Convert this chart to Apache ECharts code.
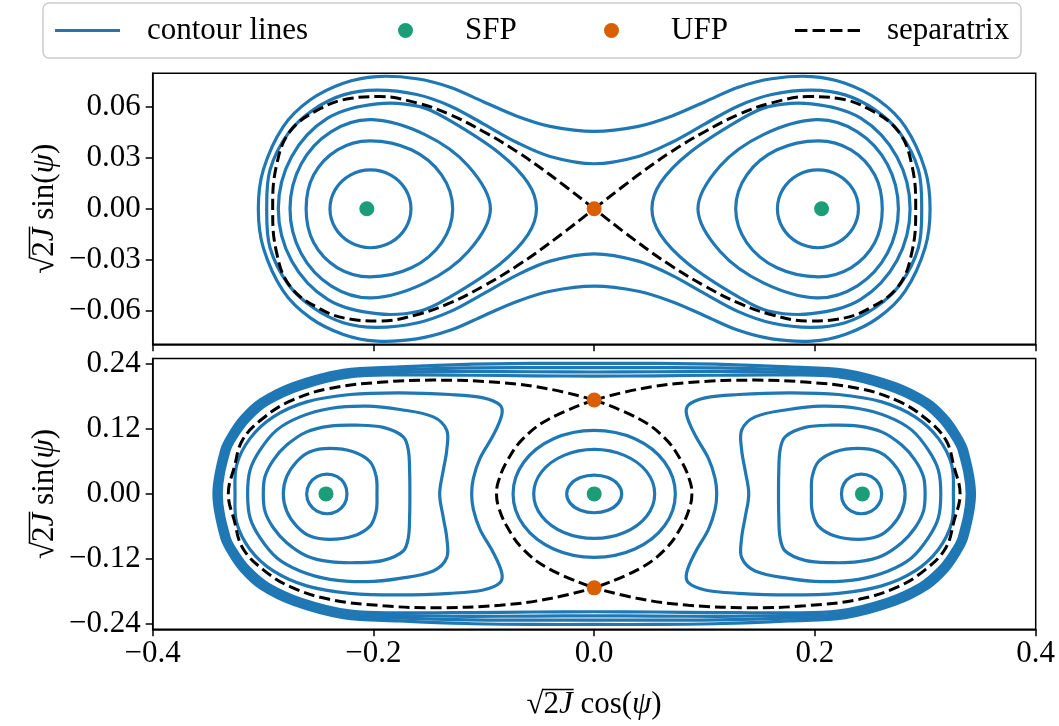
<!DOCTYPE html>
<html>
<head>
<meta charset="utf-8">
<script src="https://cdn.jsdelivr.net/npm/echarts@6/dist/echarts.min.js"></script>
<style>
  html, body { margin: 0; padding: 0; background: #ffffff; }
  #chart { width: 1059px; height: 726px; }
</style>
</head>
<body>
<div id="chart"></div>
<script>
// Phase-space portrait: x = sqrt(2J) cos(psi), y = sqrt(2J) sin(psi)

const xTicks = [-0.4, -0.2, 0, 0.2, 0.4];
const topYTicks = [-0.06, -0.03, 0, 0.03, 0.06];
const bottomYTicks = [-0.24, -0.12, 0, 0.12, 0.24];
const legendNames = ['contour lines', 'SFP', 'UFP', 'separatrix'];

// ---------- upper panel ----------
// upper half of each orbit around the left stable point, traced left to right
const topIslandHalves = [
  [[-0.2394, 0], [-0.2345, 0.0114], [-0.2210, 0.0198], [-0.2027, 0.0229], [-0.1843, 0.0198], [-0.1709, 0.0114], [-0.1660, 0]],
  [[-0.2610, 0], [-0.2541, 0.0200], [-0.2326, 0.0347], [-0.2031, 0.0400], [-0.1656, 0.0347], [-0.1383, 0.0200], [-0.1282, 0]],
  [[-0.2756, 0], [-0.2656, 0.0262], [-0.2385, 0.0453], [-0.2013, 0.0524], [-0.1533, 0.0436], [-0.1143, 0.0253], [-0.0940, 0]],
  [[-0.2862, 0], [-0.2742, 0.0306], [-0.2415, 0.0533], [-0.1968, 0.0617], [-0.1578, 0.0601], [-0.1306, 0.0518], [-0.0853, 0.0324], [-0.0600, 0.0152], [-0.0523, 0]]
];
// upper-left quarter of the orbits enclosing both islands
const topOuterQuarters = [
  [[-0.2967, 0], [-0.2937, 0.0229], [-0.2771, 0.0445], [-0.2545, 0.0582], [-0.2273, 0.0670], [-0.1970, 0.0698], [-0.1608, 0.0672], [-0.1306, 0.0605], [-0.1005, 0.0500], [-0.0700, 0.0390], [-0.0400, 0.0308], [0, 0.0265]],
  [[-0.3043, 0], [-0.2998, 0.0229], [-0.2817, 0.0484], [-0.2575, 0.0640], [-0.2273, 0.0739], [-0.1970, 0.0778], [-0.1608, 0.0765], [-0.1306, 0.0715], [-0.1005, 0.0630], [-0.0700, 0.0545], [-0.0400, 0.0485], [0, 0.0455]]
];
// upper branch of the left separatrix lobe, from the unstable point outwards
const topSeparatrixHalf = [[0, 0], [-0.0400, 0.0200], [-0.0702, 0.0337], [-0.1005, 0.0455], [-0.1306, 0.0554], [-0.1608, 0.0623], [-0.1940, 0.0660], [-0.2200, 0.0650], [-0.2480, 0.0590], [-0.2756, 0.0455], [-0.2880, 0.0250], [-0.2913, 0]];
const topSFP = [[-0.206, 0], [0.206, 0]];
const topUFP = [[0, 0]];

// ---------- lower panel ----------
const bottomIslandHalves = [
  [[-0.2605, 0], [-0.2580, 0.0185], [-0.2512, 0.0318], [-0.2420, 0.0367], [-0.2328, 0.0318], [-0.2262, 0.0185], [-0.2240, 0]],
  [[-0.2817, 0], [-0.2786, 0.0318], [-0.2696, 0.0595], [-0.2575, 0.0780], [-0.2394, 0.0842], [-0.2183, 0.0780], [-0.2031, 0.0595], [-0.1975, 0.0318], [-0.1968, 0]],
  [[-0.2998, 0], [-0.2983, 0.0318], [-0.2907, 0.0626], [-0.2786, 0.0903], [-0.2605, 0.1148], [-0.2394, 0.1254], [-0.2152, 0.1272], [-0.1911, 0.1230], [-0.1730, 0.1056], [-0.1684, 0.0811], [-0.1672, 0.0385], [-0.1670, 0]],
  [[-0.3140, 0], [-0.3118, 0.0441], [-0.3028, 0.0810], [-0.2877, 0.1180], [-0.2665, 0.1425], [-0.2394, 0.1580], [-0.2061, 0.1623], [-0.1760, 0.1562], [-0.1458, 0.1425], [-0.1336, 0.1180], [-0.1336, 0.0810], [-0.1367, 0.0441], [-0.1400, 0]],
  [[-0.3254, 0], [-0.3239, 0.0534], [-0.3118, 0.1027], [-0.2907, 0.1425], [-0.2605, 0.1702], [-0.2212, 0.1839], [-0.1760, 0.1869], [-0.1306, 0.1839], [-0.1005, 0.1777], [-0.0853, 0.1641], [-0.0838, 0.1457], [-0.0914, 0.1088], [-0.1035, 0.0657], [-0.1095, 0.0288], [-0.1110, 0]]
];
// upper half of the orbits around the central stable point
const bottomCenterHalves = [
  [[-0.0249, 0], [-0.0216, 0.0175], [-0.0125, 0.0302], [0, 0.0349], [0.0125, 0.0302], [0.0216, 0.0175], [0.0249, 0]],
  [[-0.0548, 0], [-0.0475, 0.0412], [-0.0274, 0.0713], [0, 0.0823], [0.0274, 0.0713], [0.0475, 0.0412], [0.0548, 0]],
  [[-0.0735, 0], [-0.0637, 0.0590], [-0.0368, 0.1020], [0, 0.1175], [0.0368, 0.1020], [0.0637, 0.0590], [0.0735, 0]]
];
// upper-left quarter of the orbits outside the separatrix
const bottomOuterQuarters = [
  [[-0.3445, 0], [-0.3375, 0.0810], [-0.3300, 0.1120], [-0.3194, 0.1425], [-0.3028, 0.1734], [-0.2726, 0.2042], [-0.2273, 0.2288], [-0.1760, 0.2349], [-0.1155, 0.2398], [-0.0550, 0.2415], [0, 0.2415]],
  [[-0.3423, 0], [-0.3353, 0.0805], [-0.3278, 0.1110], [-0.3171, 0.1410], [-0.3004, 0.1712], [-0.2700, 0.2012], [-0.2250, 0.2250], [-0.1740, 0.2300], [-0.1140, 0.2330], [-0.0550, 0.2335], [0, 0.2335]],
  [[-0.3401, 0], [-0.3331, 0.0800], [-0.3255, 0.1100], [-0.3147, 0.1395], [-0.2979, 0.1690], [-0.2674, 0.1982], [-0.2227, 0.2212], [-0.1720, 0.2250], [-0.1125, 0.2265], [-0.0550, 0.2260], [0, 0.2255]],
  [[-0.3379, 0], [-0.3309, 0.0795], [-0.3232, 0.1090], [-0.3123, 0.1380], [-0.2954, 0.1668], [-0.2648, 0.1952], [-0.2204, 0.2170], [-0.1700, 0.2200], [-0.1110, 0.2195], [-0.0550, 0.2185], [0, 0.2180]]
];
// separatrix branches, from the upper unstable point down to the x axis
const bottomSepOuterHalf = [[0, 0.1738], [-0.0400, 0.1937], [-0.0853, 0.2060], [-0.1458, 0.2105], [-0.1910, 0.2070], [-0.2400, 0.1950], [-0.2750, 0.1720], [-0.3000, 0.1400], [-0.3185, 0.1000], [-0.3260, 0.0500], [-0.3315, 0]];
const bottomSepInnerHalf = [[0, 0.1738], [-0.0400, 0.1396], [-0.0642, 0.1027], [-0.0793, 0.0595], [-0.0869, 0.0225], [-0.0885, 0]];
const bottomSFP = [[-0.243, 0], [0, 0], [0.243, 0]];
const bottomUFP = [[0, 0.1738], [0, -0.1738]];

// ---------- styling ----------
const BLUE = '#1f77b4';
const GREEN = '#1b9e77';
const ORANGE = '#d95f02';
const FONT = 'Liberation Serif';
const FS = 31;

// ---------- orbit assembly (reflection symmetry of the Hamiltonian) ----------
const flipY = pts => pts.map(([x, y]) => [x, -y]);
const flipX = pts => pts.map(([x, y]) => [-x, y]);
function loopFromHalf(h) {
  return h.concat(flipY(h.slice(1, -1)).reverse());
}
function loopFromQuarter(q) {
  const upper = q.concat(flipX(q.slice(0, -1)).reverse());
  return loopFromHalf(upper);
}
function lobeFromHalf(h) {
  return h.concat(flipY(h.slice(0, -1)).reverse());
}

function ringSeries(points, g) {
  return {
    type: 'custom', name: legendNames[0], coordinateSystem: 'cartesian2d',
    xAxisIndex: g, yAxisIndex: g, data: points, silent: true, z: 2,
    itemStyle: { color: BLUE },
    renderItem: (params, api) => params.dataIndex !== 0 ? null : {
      type: 'polygon',
      shape: { points: points.map(p => api.coord(p)), smooth: 0.35 },
      style: { fill: 'none', stroke: BLUE, lineWidth: 3.2 }
    }
  };
}
function sepSeries(points, g) {
  return {
    type: 'line', name: legendNames[3], xAxisIndex: g, yAxisIndex: g, data: points,
    symbol: 'none', smooth: 0.4, silent: true, z: 3,
    itemStyle: { color: '#000' },
    lineStyle: { color: '#000', width: 3, type: [11, 5] }
  };
}
function pointSeries(name, points, color, g) {
  return {
    type: 'scatter', name, xAxisIndex: g, yAxisIndex: g, data: points,
    symbol: 'circle', symbolSize: 15, silent: true, z: 5,
    itemStyle: { color, opacity: 1 }
  };
}

const series = [];
// upper panel
topIslandHalves.forEach(h => {
  const loop = loopFromHalf(h);
  series.push(ringSeries(loop, 0));
  series.push(ringSeries(flipX(loop), 0));
});
topOuterQuarters.forEach(q => series.push(ringSeries(loopFromQuarter(q), 0)));
const topLobe = lobeFromHalf(topSeparatrixHalf);
series.push(sepSeries(topLobe, 0), sepSeries(flipX(topLobe), 0));
series.push(pointSeries(legendNames[1], topSFP, GREEN, 0), pointSeries(legendNames[2], topUFP, ORANGE, 0));
// lower panel
bottomIslandHalves.forEach(h => {
  const loop = loopFromHalf(h);
  series.push(ringSeries(loop, 1));
  series.push(ringSeries(flipX(loop), 1));
});
bottomCenterHalves.forEach(h => series.push(ringSeries(loopFromHalf(h), 1)));
bottomOuterQuarters.forEach(q => series.push(ringSeries(loopFromQuarter(q), 1)));
const outerLobe = lobeFromHalf(bottomSepOuterHalf);
const innerLobe = lobeFromHalf(bottomSepInnerHalf);
series.push(sepSeries(outerLobe, 1), sepSeries(flipX(outerLobe), 1));
series.push(sepSeries(innerLobe, 1), sepSeries(flipX(innerLobe), 1));
series.push(pointSeries(legendNames[1], bottomSFP, GREEN, 1), pointSeries(legendNames[2], bottomUFP, ORANGE, 1));

// ---------- axis labels with a radical sign ----------
const measureCtx = document.createElement('canvas').getContext('2d');
function textWidth(t, italic) {
  measureCtx.font = (italic ? 'italic ' : '') + FS + 'px "' + FONT + '"';
  return measureCtx.measureText(t).width;
}
function radicalLabel(tail, cx, cy, rotation) {
  const pieces = [{ t: '\u221A' }, { t: '2', bar: true }, { t: 'J', it: true, bar: true }].concat(tail);
  let x = 0, barStart = null, barEnd = null;
  const placed = pieces.map(p => {
    const w = textWidth(p.t, p.it);
    const item = { p, x };
    if (p.bar) { if (barStart === null) barStart = x; barEnd = x + w; }
    x += w;
    return item;
  });
  const half = x / 2;
  const children = placed.map(({ p, x: px }) => ({
    type: 'text', x: px - half, y: 0, silent: true,
    style: {
      text: p.t, fill: '#000',
      font: (p.it ? 'italic ' : '') + FS + 'px "' + FONT + '"',
      align: 'left', verticalAlign: 'middle',
      textAlign: 'left', textVerticalAlign: 'middle'
    }
  }));
  children.push({
    type: 'line', silent: true,
    shape: { x1: barStart - half - 1, y1: -15.5, x2: barEnd - half + 1, y2: -15.5 },
    style: { stroke: '#000', lineWidth: 1.5 }
  });
  return { type: 'group', x: cx, y: cy, rotation, children };
}

// one legend block per entry so each column sits where it belongs
const legendIcons = [
  'path://M0,0H65V3.2H0Z',
  'circle',
  'circle',
  'path://M0,0H12V3H0Z M17,0H29V3H17Z M34,0H46V3H34Z M51,0H63V3H51Z'
];
const legendLefts = [55, 398, 604, 795];
const legends = legendNames.map((name, i) => ({
  left: legendLefts[i], top: 15, padding: 0,
  itemWidth: 65, itemHeight: 15, selectedMode: false, z: 6,
  textStyle: { fontFamily: FONT, fontSize: FS, color: '#000', padding: [0, 0, 0, 22] },
  data: [{ name, icon: legendIcons[i] }]
}));

const tickFmt = d => v => (v < 0 ? '\u2212' : '') + Math.abs(v).toFixed(d);
const tickLine = { show: true, length: 7, inside: false, lineStyle: { color: '#000', width: 1.5 } };
const frameLine = { show: true, onZero: false, lineStyle: { color: '#000', width: 1.5 } };
const labelFont = { fontFamily: FONT, fontSize: FS, color: '#000' };

const option = {
  animation: false,
  backgroundColor: '#ffffff',
  legend: legends,
  grid: [
    { left: 152.7, top: 73.3, width: 883, height: 271, show: true, borderColor: '#000', borderWidth: 1.5, backgroundColor: 'transparent' },
    { left: 152.7, top: 358.5, width: 883, height: 270.8, show: true, borderColor: '#000', borderWidth: 1.5, backgroundColor: 'transparent' }
  ],
  xAxis: [
    { gridIndex: 0, type: 'value', position: 'bottom', min: xTicks[0], max: xTicks[xTicks.length - 1], interval: 0.2,
      axisLine: frameLine, axisTick: tickLine, axisLabel: { show: false }, splitLine: { show: false } },
    { gridIndex: 1, type: 'value', position: 'bottom', min: xTicks[0], max: xTicks[xTicks.length - 1], interval: 0.2,
      axisLine: frameLine, axisTick: tickLine, splitLine: { show: false },
      axisLabel: Object.assign({ margin: 9, formatter: tickFmt(1) }, labelFont) }
  ],
  yAxis: [
    { gridIndex: 0, type: 'value', position: 'left', min: -0.0797, max: 0.0797,
      axisLine: frameLine,
      axisTick: Object.assign({ customValues: topYTicks }, tickLine), splitLine: { show: false },
      axisLabel: Object.assign({ customValues: topYTicks, margin: 12, formatter: tickFmt(2) }, labelFont) },
    { gridIndex: 1, type: 'value', position: 'left', min: -0.2505, max: 0.2505,
      axisLine: frameLine,
      axisTick: Object.assign({ customValues: bottomYTicks }, tickLine), splitLine: { show: false },
      axisLabel: Object.assign({ customValues: bottomYTicks, margin: 12, formatter: tickFmt(2) }, labelFont) }
  ],
  graphic: [
    { type: 'rect', z: 1, silent: true,
      shape: { x: 43, y: 3, width: 978, height: 55, r: 6 },
      style: { fill: '#ffffff', stroke: '#cccccc', lineWidth: 1.5 } },
    radicalLabel([{ t: ' cos(' }, { t: '\u03C8', it: true }, { t: ')' }], 594, 705, 0),
    radicalLabel([{ t: ' sin(' }, { t: '\u03C8', it: true }, { t: ')' }], 45, 208.8, Math.PI / 2),
    radicalLabel([{ t: ' sin(' }, { t: '\u03C8', it: true }, { t: ')' }], 45, 493.9, Math.PI / 2)
  ],
  series
};

const chart = echarts.init(document.getElementById('chart'), null, { renderer: 'canvas' });
chart.setOption(option);
</script>
</body>
</html>
